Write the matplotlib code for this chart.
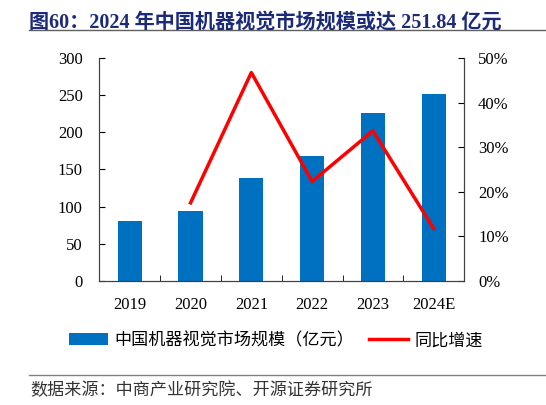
import matplotlib
matplotlib.use("Agg")
import matplotlib.pyplot as plt
from matplotlib.lines import Line2D

years = ["2019", "2020", "2021", "2022", "2023", "2024E"]
market_size = [80.0, 93.6, 138.6, 168.7, 225.9, 251.84]
growth_years = ["2020", "2021", "2022", "2023", "2024E"]
growth = [17.5, 46.8, 22.3, 33.7, 11.7]

cjk = ["Liberation Serif", "Noto Sans CJK SC", "DejaVu Sans"]
plt.rcParams["font.family"] = cjk

fig = plt.figure(figsize=(5.46, 4.05), dpi=100)
ax = fig.add_axes([0.182, 0.307, 0.668, 0.549])

x = list(range(len(years)))
bars = ax.bar(x, market_size, width=0.4, color="#0070c0", zorder=2)
ax.set_ylim(0, 300)
ax.set_xlim(-0.5, len(years) - 0.5)
ax.set_yticks(range(0, 301, 50))
ax.set_xticks(x)
ax.set_xticklabels(years)
ax.set_xticks([i + 0.5 for i in x[:-1]], minor=True)
ax.tick_params(axis="x", which="major", length=0, pad=12, labelsize=12)
ax.tick_params(axis="x", which="minor", direction="in", length=4)
ax.tick_params(axis="y", direction="in", length=4, labelsize=12, pad=12)
ax.spines["top"].set_visible(False)
for s in ["left", "bottom", "right"]:
    ax.spines[s].set_color("#404040")

ax2 = ax.twinx()
gx = [years.index(y) for y in growth_years]
line, = ax2.plot(gx, growth, color="#ff0000", linewidth=2.5, zorder=3)
ax2.set_ylim(0, 50)
ax2.set_yticks(range(0, 51, 10))
ax2.set_yticklabels([f"{v}%" for v in range(0, 51, 10)])
ax2.tick_params(axis="y", direction="in", length=4, labelsize=12, pad=10)
ax2.spines["top"].set_visible(False)
for s in ["left", "bottom", "right"]:
    ax2.spines[s].set_color("#404040")

handles = [bars, Line2D([0], [0], color="#ff0000", linewidth=2.5)]
labels = ["中国机器视觉市场规模（亿元）", "同比增速"]
fig.legend(handles, labels, loc="center", bbox_to_anchor=(0.505, 0.16), ncol=2,
           frameon=False, handlelength=2.3, handletextpad=0.35, columnspacing=0.9,
           prop={"family": ["Noto Sans CJK SC"], "size": 12.3})

fig.text(0.053, 0.945, "图60：2024 年中国机器视觉市场规模或达 251.84 亿元",
         fontsize=14.5, fontweight="bold", color="#1c2a7a", va="center", ha="left")
fig.add_artist(Line2D([0.053, 1.0], [0.925, 0.925], color="#606060", linewidth=1))
fig.add_artist(Line2D([0.053, 1.0], [0.073, 0.073], color="#808080", linewidth=1))
fig.text(0.055, 0.037, "数据来源：中商产业研究院、开源证券研究所",
         fontsize=12.3, color="#333333", va="center", ha="left",
         family=["Noto Sans CJK SC"])

fig.savefig("out.png", dpi=100)
